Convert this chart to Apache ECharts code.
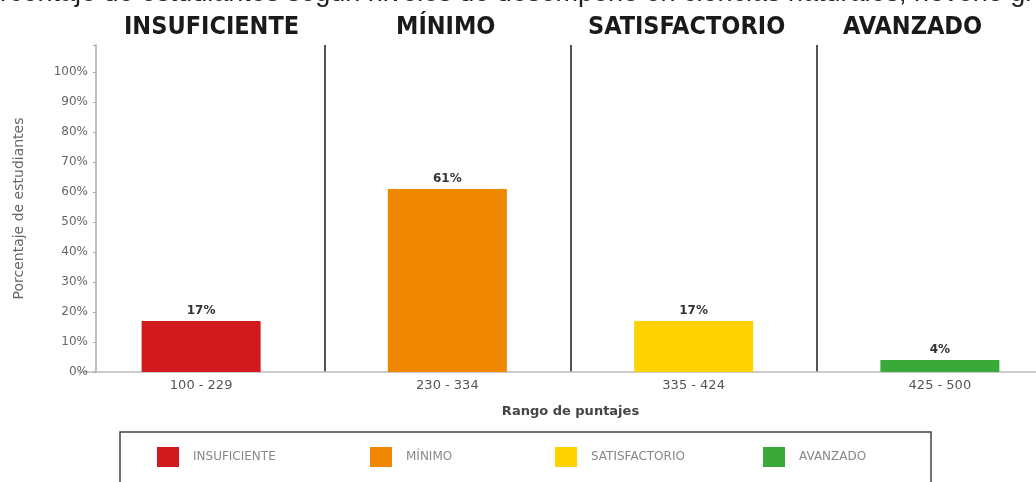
<!DOCTYPE html>
<html>
<head>
<meta charset="utf-8">
<script src="https://cdn.jsdelivr.net/npm/echarts@6/dist/echarts.min.js"></script>
<style>
html,body{margin:0;padding:0;background:#fff;overflow:hidden;}
#chart{width:1100px;height:482px;}
</style>
</head>
<body>
<div id="chart"></div>
<script>
const titleText = 'Porcentaje de estudiantes según niveles de desempeño en ciencias naturales, noveno grado';
const levels = ['INSUFICIENTE', 'MÍNIMO', 'SATISFACTORIO', 'AVANZADO'];
const ranges = ['100 - 229', '230 - 334', '335 - 424', '425 - 500'];
const values = [17, 61, 17, 4];
const colors = ['#D2191D', '#F08700', '#FFD200', '#3BA93A'];
const yTicks = [0, 10, 20, 30, 40, 50, 60, 70, 80, 90, 100];

// layout only
const headerLeft = [124, 396, 588, 843];
const legendLeft = [157, 370, 555, 763];

const chart = echarts.init(document.getElementById('chart'), null, {renderer: 'canvas'});

const series = levels.map((lv, i) => ({
  name: lv,
  type: 'bar',
  stack: 'total',
  barWidth: 119,
  itemStyle: {color: colors[i]},
  data: values.map((v, j) => (j === i ? v : '-')),
  label: {
    show: true,
    position: 'top',
    distance: 4,
    formatter: '{c}%',
    color: '#333',
    fontFamily: 'DejaVu Sans',
    fontWeight: 'bold',
    fontSize: 12
  }
}));

const titles = levels.map((lv, i) => ({
  text: lv,
  left: headerLeft[i],
  top: 10,
  padding: [5, 0, 5, 0],
  textStyle: {fontFamily: 'Liberation Sans Narrow, DejaVu Sans Condensed', fontSize: 25, fontWeight: 'bold', color: '#1a1a1a'}
}));

const legends = levels.map((lv, i) => ({
  data: [lv],
  left: legendLeft[i],
  top: 447,
  padding: 0,
  icon: 'rect',
  itemWidth: 22,
  itemHeight: 20,
  selectedMode: false,
  textStyle: {fontFamily: 'DejaVu Sans', fontSize: 12, color: '#888', padding: [0, 0, 0, 9]}
}));

chart.setOption({
  animation: false,
  backgroundColor: '#fff',
  title: titles,
  legend: legends,
  graphic: [{
    type: 'text',
    x: -33,
    y: 7,
    style: {
      text: titleText,
      fontFamily: 'Liberation Sans',
      fontSize: 27,
      fill: '#222',
      align: 'left',
      verticalAlign: 'bottom'
    }
  }, {
    type: 'rect',
    shape: {x: 120, y: 432, width: 811, height: 60},
    style: {fill: 'none', stroke: '#444', lineWidth: 1.5}
  }],
  grid: {left: 78, top: 45, width: 985, height: 327, containLabel: false},
  xAxis: {
    type: 'category',
    data: ranges,
    name: 'Rango de puntajes',
    nameLocation: 'middle',
    nameGap: 33,
    nameTextStyle: {fontFamily: 'DejaVu Sans', fontWeight: 'bold', fontSize: 13, color: '#444'},
    axisLine: {show: true, lineStyle: {color: '#bbb', width: 1.5}},
    axisTick: {show: false},
    axisLabel: {fontFamily: 'DejaVu Sans', fontSize: 13, color: '#555', margin: 7},
    splitLine: {
      show: true,
      interval: function (index) { return index !== 0; },
      lineStyle: {color: '#555', width: 2}
    }
  },
  yAxis: {
    type: 'value',
    min: 0,
    max: 109,
    interval: 10,
    offset: -18,
    name: 'Porcentaje de estudiantes',
    nameLocation: 'middle',
    nameGap: 70,
    nameTextStyle: {fontFamily: 'DejaVu Sans', fontSize: 14, color: '#666'},
    axisLine: {show: true, lineStyle: {color: '#aaa', width: 1.5}},
    axisTick: {show: true, length: 3, lineStyle: {color: '#aaa'}},
    splitLine: {show: false},
    axisLabel: {
      fontFamily: 'DejaVu Sans',
      fontSize: 12,
      color: '#666',
      margin: 8,
      formatter: function (v) { return yTicks.indexOf(v) >= 0 ? v + '%' : ''; }
    }
  },
  series: series
});
</script>
</body>
</html>
